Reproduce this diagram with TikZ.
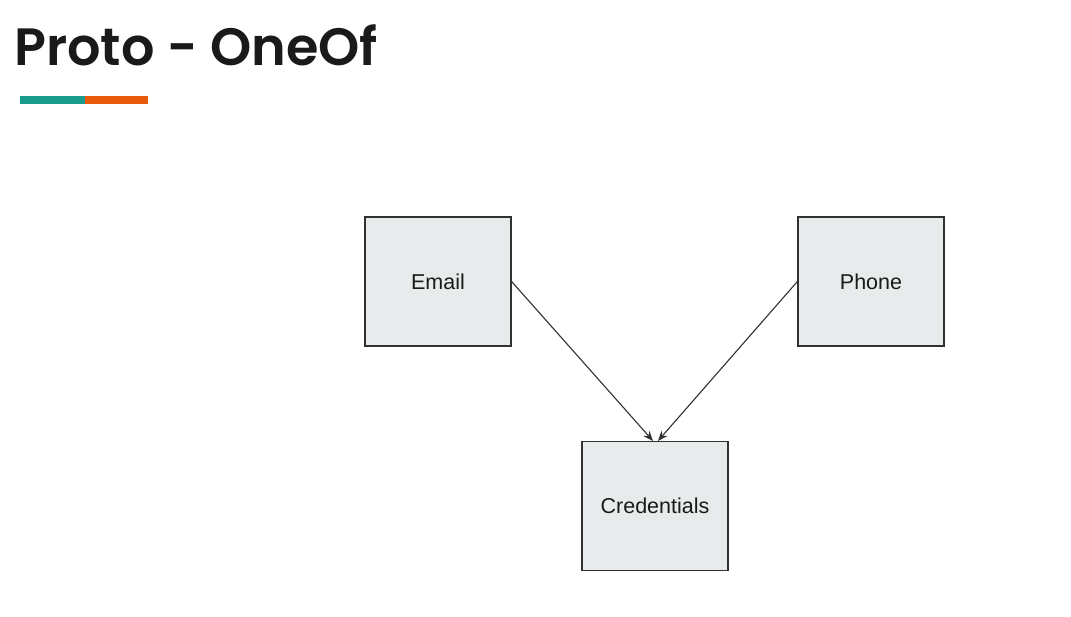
\documentclass[tikz,border=0pt]{standalone}
\usepackage{fontspec}
\setmainfont{Liberation Sans}
\newfontfamily\titlefont{Poppins}[UprightFont=* SemiBold]
\usetikzlibrary{arrows.meta}
\definecolor{boxfill}{HTML}{E8EBEC}
\definecolor{teal}{HTML}{1A9A8A}
\definecolor{orangebar}{HTML}{E85A0C}
\definecolor{ink}{HTML}{1A1A1A}
\tikzset{
  entity/.style={draw=ink!90, line width=1.2pt, fill=boxfill, minimum width=146pt, minimum height=129pt, inner sep=0pt, font=\fontsize{21.5}{25}\selectfont, text=ink},
  link/.style={draw=ink!90, line width=1.1pt, -{Stealth[length=10pt,width=8pt]}}
}
\begin{document}
\begin{tikzpicture}[x=1pt,y=-1pt]
\useasboundingbox (0,0) rectangle (1071,617);
\node[anchor=base west, inner sep=0pt, font=\titlefont\fontsize{52.5}{60}\selectfont, text=ink] (title) at (14,66) {Proto - OneOf};
\fill[teal] (20,96) rectangle (85,104);
\fill[orangebar] (85,96) rectangle (148,104);
\node[entity] (email) at (438,281.5) {Email};
\node[entity] (phone) at (871,281.5) {Phone};
\node[entity] (cred) at (655,506) {Credentials};
\draw[link] (email.east) -- ([xshift=-2pt]cred.north);
\draw[link] (phone.west) -- ([xshift=3pt]cred.north);
\end{tikzpicture}
\end{document}
